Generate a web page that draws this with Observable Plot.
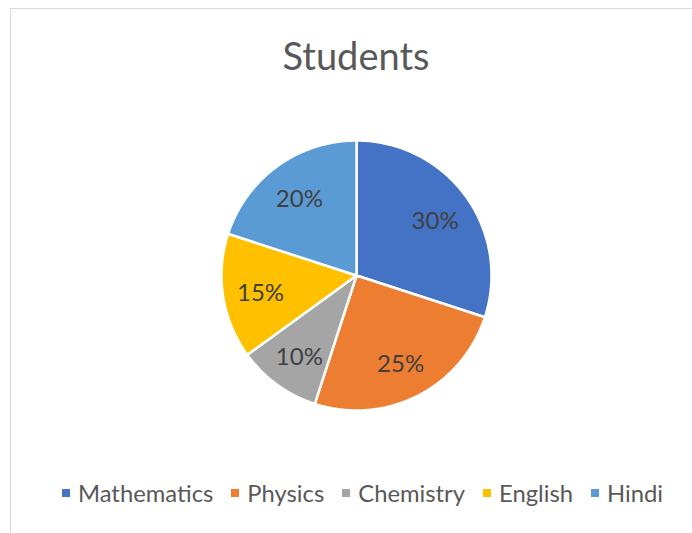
<!DOCTYPE html>
<html><head><meta charset="utf-8">
<script src="https://cdn.jsdelivr.net/npm/d3@7"></script>
<script src="https://cdn.jsdelivr.net/npm/@observablehq/plot@0.6"></script>
<style>
body{margin:0;background:#fff;width:692px;height:533px;overflow:hidden;position:relative;font-family:Lato,"Open Sans",sans-serif}
#frame{position:absolute;left:10px;top:8px;width:700px;height:560px;border:1px solid #d9d9d9;box-sizing:border-box}
#title{position:absolute;left:0;width:712px;top:33px;text-align:center;font-size:38px;line-height:44px;color:#595959}
#chart{position:absolute;left:206px;top:125px}
#legend{position:absolute;top:480px;left:0;width:725px;display:flex;justify-content:center;align-items:center;font-size:23.8px;line-height:26px;color:#595959}
.item{display:flex;align-items:center;margin:0 9px}
.sw{width:8px;height:8px;margin-right:8px}
</style></head>
<body>
<div id="frame"></div>
<div id="title">Students</div>
<div id="chart"></div>
<div id="legend"></div>
<script>
const categories = ["Mathematics", "Physics", "Chemistry", "English", "Hindi"];
const shares = [30, 25, 10, 15, 20];
const colors = ["#4472C4", "#ED7D31", "#A5A5A5", "#FFC000", "#5B9BD5"];

const arcs = d3.pie().sort(null)(shares).map((a, i) => ({...a, cat: categories[i]}));
const pts = [];
for (const a of arcs) {
  pts.push({cat: a.cat, x: 0, y: 0});
  const n = Math.max(2, Math.ceil((a.endAngle - a.startAngle) / (Math.PI / 360)));
  for (let k = 0; k <= n; k++) {
    const t = a.startAngle + (a.endAngle - a.startAngle) * k / n;
    pts.push({cat: a.cat, x: Math.sin(t), y: Math.cos(t)});
  }
}
const R = 150 / 135;
const lr = 0.72;
const mid = a => (a.startAngle + a.endAngle) / 2;
const plot = Plot.plot({
  width: 300, height: 300, margin: 0,
  x: {domain: [-R, R], axis: null},
  y: {domain: [-R, R], axis: null},
  color: {domain: categories, range: colors},
  style: {background: "transparent", overflow: "visible"},
  marks: [
    Plot.line(pts, {x: "x", y: "y", z: "cat", fill: "cat", stroke: "white", strokeWidth: 2.5, curve: "linear-closed", strokeLinejoin: "round"}),
    Plot.text(arcs, {x: a => lr * Math.sin(mid(a)), y: a => lr * Math.cos(mid(a)) - 0.02, text: a => a.value + "%", fill: "#404040", fontSize: 24, fontFamily: "Lato"})
  ]
});
document.getElementById("chart").appendChild(plot);

const leg = document.getElementById("legend");
categories.forEach((c, i) => {
  const it = document.createElement("div"); it.className = "item";
  const sw = document.createElement("div"); sw.className = "sw"; sw.style.background = colors[i];
  const tx = document.createElement("span"); tx.textContent = c;
  it.appendChild(sw); it.appendChild(tx); leg.appendChild(it);
});
</script>
</body></html>
